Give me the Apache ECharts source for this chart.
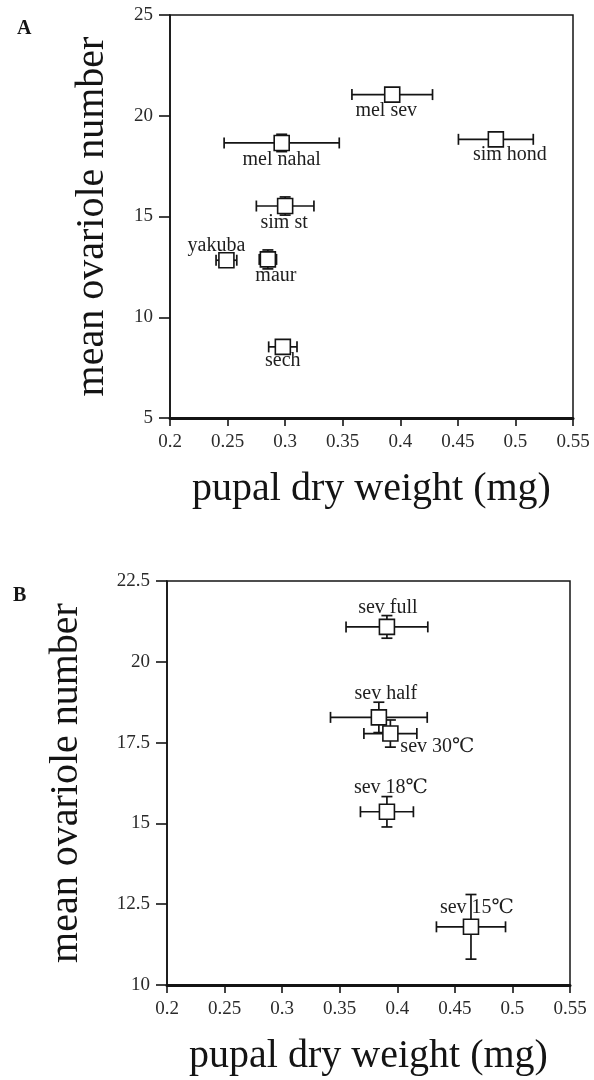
<!DOCTYPE html>
<html>
<head>
<meta charset="utf-8">
<script src="https://cdn.jsdelivr.net/npm/echarts@6/dist/echarts.min.js"></script>
<style>
html,body{margin:0;padding:0;background:#fff;}
#chart{width:594px;height:1080px;}
</style>
</head>
<body>
<div id="chart"></div>
<script>
// ---- Panel A data ----
const namesA = ['mel sev', 'sim hond', 'mel nahal', 'sim st', 'yakuba', 'maur', 'sech'];
const weightA = [0.393, 0.483, 0.297, 0.300, 0.249, 0.285, 0.298];
const ovarioleA = [21.05, 18.83, 18.65, 15.52, 12.83, 12.87, 8.53];
const weightErrA = [0.035, 0.0325, 0.05, 0.025, 0.009, 0.0075, 0.0123];
const ovarioleErrA = [0, 0, 0.43, 0.45, 0, 0.47, 0];

// ---- Panel B data ----
const namesB = ['sev full', 'sev half', 'sev 30\u2103', 'sev 18\u2103', 'sev 15\u2103'];
const weightB = [0.391, 0.384, 0.394, 0.391, 0.464];
const ovarioleB = [21.08, 18.28, 17.78, 15.36, 11.80];
const weightErrB = [0.0355, 0.042, 0.023, 0.023, 0.030];
const ovarioleErrB = [0.35, 0.47, 0.42, 0.47, 1.0];

// ---- axis ticks ----
const xTicks = [0.2, 0.25, 0.3, 0.35, 0.4, 0.45, 0.5, 0.55];
const yTicksA = [5, 10, 15, 20, 25];
const yTicksB = [10, 12.5, 15, 17.5, 20, 22.5];

// ---- label placement (layout, px offsets from marker centre) ----
const labelOffsetA = [[-6, 16], [14, 15], [0, 17], [-1, 17], [-10, -14], [8, 16], [0, 14]];
const labelOffsetB = [[1, -19], [7, -24], [47, 13], [4, -24], [6, -19]];

const FONT = '"Liberation Serif", "Times New Roman", "DejaVu Serif", "Noto Sans CJK SC", serif';
const INK = '#141414';

function errRender(params, api) {
  const x = api.value(0), y = api.value(1), ex = api.value(2), ey = api.value(3);
  const style = { stroke: INK, lineWidth: 1.7 };
  const cap = 5.5;
  const kids = [];
  if (ex > 0) {
    const l = api.coord([x - ex, y]), r = api.coord([x + ex, y]);
    kids.push({ type: 'line', shape: { x1: l[0], y1: l[1], x2: r[0], y2: r[1] }, style });
    kids.push({ type: 'line', shape: { x1: l[0], y1: l[1] - cap, x2: l[0], y2: l[1] + cap }, style });
    kids.push({ type: 'line', shape: { x1: r[0], y1: r[1] - cap, x2: r[0], y2: r[1] + cap }, style });
  }
  if (ey > 0) {
    const t = api.coord([x, y + ey]), b = api.coord([x, y - ey]);
    kids.push({ type: 'line', shape: { x1: t[0], y1: t[1], x2: b[0], y2: b[1] }, style });
    kids.push({ type: 'line', shape: { x1: t[0] - cap, y1: t[1], x2: t[0] + cap, y2: t[1] }, style });
    kids.push({ type: 'line', shape: { x1: b[0] - cap, y1: b[1], x2: b[0] + cap, y2: b[1] }, style });
  }
  return { type: 'group', children: kids };
}

function fmtTick(v) { return String(+(+v).toFixed(2)); }

function xAxisCfg(gridIndex) {
  return {
    type: 'value', gridIndex, min: xTicks[0], max: xTicks[xTicks.length - 1], interval: 0.05,
    name: 'pupal dry weight (mg)', nameLocation: 'middle', nameGap: 51,
    nameTextStyle: { fontFamily: FONT, fontSize: 40, color: INK },
    axisLine: { show: true, lineStyle: { color: INK, width: 3 } },
    axisTick: { show: true, inside: false, length: 8, lineStyle: { color: INK, width: 1.6 } },
    axisLabel: { margin: 15, fontFamily: FONT, fontSize: 19, color: '#2a2a2a', formatter: fmtTick },
    splitLine: { show: false }
  };
}

function yAxisCfg(gridIndex, ticks, gap) {
  return {
    type: 'value', gridIndex, min: ticks[0], max: ticks[ticks.length - 1], interval: ticks[1] - ticks[0],
    name: 'mean ovariole number', nameLocation: 'middle', nameGap: gap, nameRotate: 90,
    nameTextStyle: { fontFamily: FONT, fontSize: 40, color: INK },
    axisLine: { show: true, lineStyle: { color: INK, width: 1.6 } },
    axisTick: { show: true, inside: false, length: 11, lineStyle: { color: INK, width: 1.6 } },
    axisLabel: { margin: 17, fontFamily: FONT, fontSize: 19, color: '#2a2a2a', formatter: fmtTick },
    splitLine: { show: false }
  };
}

function pointData(names, xs, ys, offsets) {
  return names.map((n, i) => ({
    name: n,
    value: [xs[i], ys[i]],
    label: { offset: offsets[i] }
  }));
}
function errData(xs, ys, exs, eys) {
  return xs.map((x, i) => [x, ys[i], exs[i], eys[i]]);
}

const scatterStyle = {
  type: 'scatter', symbol: 'rect', symbolSize: 15, z: 5,
  itemStyle: { color: '#fff', borderColor: INK, borderWidth: 1.6, opacity: 1 },
  label: {
    show: true, position: 'inside', formatter: p => p.name,
    fontFamily: FONT, fontSize: 20, color: '#1e1e1e'
  },
  emphasis: { disabled: true },
  animation: false
};

const chart = echarts.init(document.getElementById('chart'), null, { renderer: 'canvas' });
chart.setOption({
  backgroundColor: '#fff',
  animation: false,
  title: [
    { text: 'A', left: 12, top: 14, textStyle: { fontFamily: FONT, fontWeight: 'bold', fontSize: 20, color: INK } },
    { text: 'B', left: 8, top: 581, textStyle: { fontFamily: FONT, fontWeight: 'bold', fontSize: 20, color: INK } }
  ],
  grid: [
    { left: 170, top: 15, width: 403, height: 403, show: true, borderColor: INK, borderWidth: 1.5, backgroundColor: 'transparent' },
    { left: 167, top: 581, width: 403, height: 404, show: true, borderColor: INK, borderWidth: 1.5, backgroundColor: 'transparent' }
  ],
  xAxis: [xAxisCfg(0), xAxisCfg(1)],
  yAxis: [yAxisCfg(0, yTicksA, 58), yAxisCfg(1, yTicksB, 81)],
  series: [
    { type: 'custom', xAxisIndex: 0, yAxisIndex: 0, renderItem: errRender, data: errData(weightA, ovarioleA, weightErrA, ovarioleErrA), z: 3, silent: true },
    Object.assign({}, scatterStyle, { xAxisIndex: 0, yAxisIndex: 0, data: pointData(namesA, weightA, ovarioleA, labelOffsetA) }),
    { type: 'custom', xAxisIndex: 1, yAxisIndex: 1, renderItem: errRender, data: errData(weightB, ovarioleB, weightErrB, ovarioleErrB), z: 3, silent: true },
    Object.assign({}, scatterStyle, { xAxisIndex: 1, yAxisIndex: 1, data: pointData(namesB, weightB, ovarioleB, labelOffsetB) })
  ]
});
</script>
</body>
</html>
